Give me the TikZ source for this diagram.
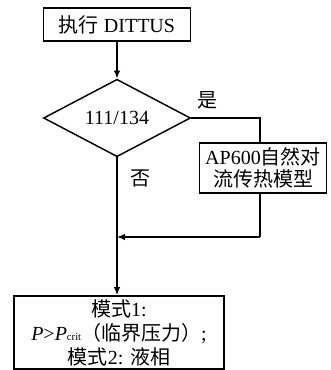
\documentclass[tikz,border=0pt]{standalone}
\usepackage{fontspec}
\setmainfont{Liberation Serif}
\newfontfamily\cjk{Noto Sans CJK SC}
\usetikzlibrary{shapes.geometric,arrows.meta}
\begin{document}
\begin{tikzpicture}[x=0.75pt,y=-0.75pt,
  txt/.style={inner sep=0pt,align=center,font=\fontsize{15}{18}\selectfont},
  box/.style={txt,draw,line width=1.4pt},
  dia/.style={txt,draw,diamond,line width=1.1pt},
  conn/.style={line width=1.1pt},
  arr/.style={conn,-{Latex[length=6pt,width=5pt]}}]
\useasboundingbox (0,0) rectangle (330,370);
\node[box,minimum width=110.25pt,minimum height=24.75pt] (start) at (117,24.5) {{\cjk 执行} DITTUS};
\node[dia,minimum width=110.25pt,minimum height=52.5pt] (dec) at (117,118) {111/134};
\node[box,minimum width=95.25pt,minimum height=37.5pt,font=\fontsize{15}{17}\selectfont] (ap) at (263,168) {AP600{\cjk 自然对}\\{\cjk 流传热模型}};
\node[box,minimum width=157.5pt,minimum height=54.75pt] (res) at (119,332.5) {{\cjk 模式}1:\\\textit{P}>\textit{P}{\fontsize{8}{8}\selectfont crit}{\cjk （临界压力）};\\{\cjk 模式}2: {\cjk 液相}};
\node[txt] (yes) at (207,100) {\cjk 是};
\node[txt] (no) at (140,178) {\cjk 否};
\coordinate (j) at (260,237);
\draw[arr] (start.south) -- (dec.north);
\draw[conn] (dec.east) -| (ap.north -| j);
\draw[conn] (ap.south -| j) -- (j);
\draw[arr] (j) -- (dec.south |- j);
\draw[arr] (dec.south) -- (dec.south |- res.north);
\end{tikzpicture}
\end{document}
